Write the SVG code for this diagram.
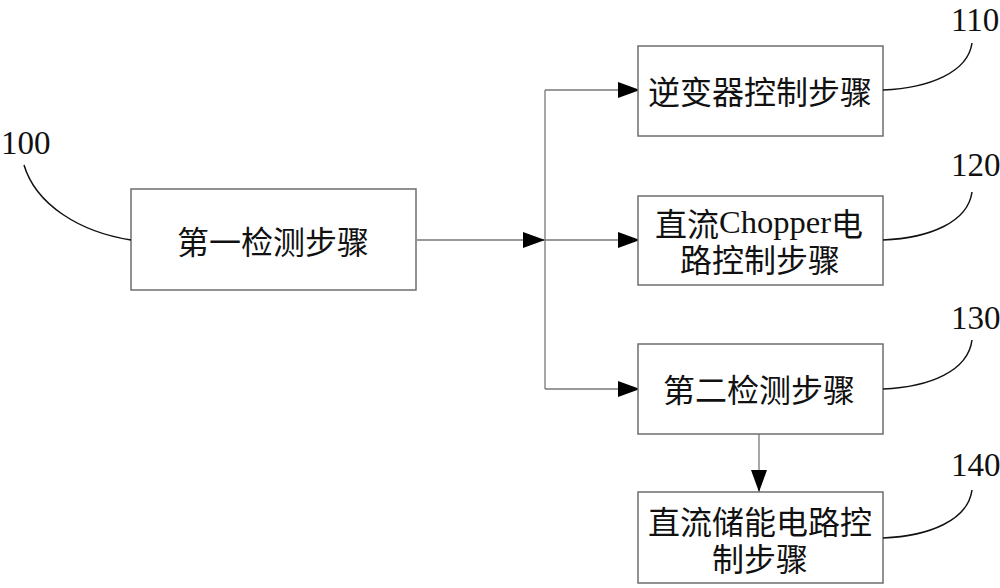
<svg xmlns="http://www.w3.org/2000/svg" width="1000" height="588" viewBox="0 0 1000 588">
<style>
.box{fill:#fff;stroke:#6e6e6e;stroke-width:1.5}
.t{font-family:"Noto Sans CJK SC","Noto Sans CJK JP",sans-serif;font-size:32px;fill:#111;text-anchor:middle;dominant-baseline:central}
.num{font-family:"Liberation Serif",serif;font-size:33px;fill:#111}
.con{fill:none;stroke:#777;stroke-width:1.3}
.lead{fill:none;stroke:#111;stroke-width:1.5}
</style>
<defs>
<marker id="ah" markerUnits="userSpaceOnUse" markerWidth="22" markerHeight="16" refX="22" refY="8" orient="auto">
<path d="M0,0 L22,8 L0,16 z" fill="#000"/>
</marker>
</defs>
<rect width="1000" height="588" fill="#fff"/>
<g id="connectors">
<line class="con" x1="417" y1="240" x2="545" y2="240" marker-end="url(#ah)"/>
<line class="con" x1="545" y1="90" x2="545" y2="389"/>
<line class="con" x1="545" y1="90" x2="640" y2="90" marker-end="url(#ah)"/>
<line class="con" x1="545" y1="240" x2="640" y2="240" marker-end="url(#ah)"/>
<line class="con" x1="545" y1="389" x2="640" y2="389" marker-end="url(#ah)"/>
<line class="con" x1="759" y1="434" x2="759" y2="492" marker-end="url(#ah)"/>
</g>
<g id="n100">
<rect class="box" x="131" y="189" width="285" height="101"/>
<text class="t" x="273" y="240">第一检测步骤</text>
</g>
<g id="n110">
<rect class="box" x="638" y="46" width="245" height="90"/>
<text class="t" x="760" y="90">逆变器控制步骤</text>
</g>
<g id="n120">
<rect class="box" x="638" y="196" width="245" height="89"/>
<text class="t" y="222"><tspan x="655" y="222" style="text-anchor:start">直流</tspan><tspan font-family="Liberation Serif" textLength="112" lengthAdjust="spacingAndGlyphs">Chopper</tspan><tspan>电</tspan><tspan x="760" y="258">路控制步骤</tspan></text>
</g>
<g id="n130">
<rect class="box" x="638" y="344" width="245" height="90"/>
<text class="t" x="759" y="388">第二检测步骤</text>
</g>
<g id="n140">
<rect class="box" x="638" y="492" width="245" height="91"/>
<text class="t"><tspan x="760" y="520">直流储能电路控</tspan><tspan x="760" y="557">制步骤</tspan></text>
</g>
<g id="labels">
<path class="lead" d="M24,165 C36,205 80,232 131,240"/>
<text class="num" x="1" y="154">100</text>
<path class="lead" d="M883,90 C930,88 968,72 972,43"/>
<text class="num" x="951" y="31">110</text>
<path class="lead" d="M883,240 C930,238 968,222 972,192"/>
<text class="num" x="951" y="176">120</text>
<path class="lead" d="M883,389 C930,387 968,371 972,340"/>
<text class="num" x="951" y="329">130</text>
<path class="lead" d="M883,538 C930,536 968,520 972,490"/>
<text class="num" x="951" y="476">140</text>
</g>
</svg>
